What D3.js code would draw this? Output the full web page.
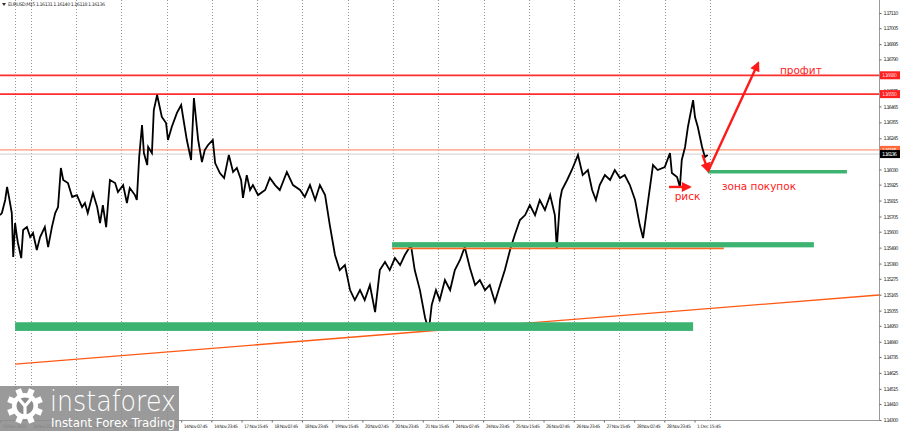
<!DOCTYPE html>
<html>
<head>
<meta charset="utf-8">
<script src="https://cdn.jsdelivr.net/npm/d3@7"></script>
<style>
  body { margin: 0; background: #fff; }
  svg { display: block; }
  text { font-family: "DejaVu Sans", sans-serif; }
</style>
</head>
<body>
<script>
// price axis ticks
const priceTicks = [1.17110, 1.17005, 1.16895, 1.16790, 1.16680, 1.16575, 1.16465, 1.16355, 1.16245,
  1.16140, 1.16030, 1.15925, 1.15815, 1.15705, 1.15600, 1.15490, 1.15380, 1.15275, 1.15165, 1.15055,
  1.14950, 1.14840, 1.14735, 1.14625, 1.14515, 1.14410, 1.14300];

// time axis (bar index of each label)
const timeBars = [0, 64, 128, 192, 256, 320, 384, 448, 512, 576, 640, 704, 768, 832, 896, 960, 1024,
  1088, 1152, 1216, 1280, 1344, 1408, 1472];
const timeLabels = ["10 Nov 2025", "10 Nov 23:45", "11 Nov 15:45", "12 Nov 07:45", "12 Nov 23:45",
  "13 Nov 15:45", "14 Nov 07:45", "14 Nov 23:45", "17 Nov 15:45", "18 Nov 07:45", "18 Nov 23:45",
  "19 Nov 15:45", "20 Nov 07:45", "20 Nov 23:45", "21 Nov 15:45", "24 Nov 07:45", "24 Nov 23:45",
  "25 Nov 15:45", "26 Nov 07:45", "26 Nov 23:45", "27 Nov 15:45", "28 Nov 07:45", "28 Nov 23:45",
  "1 Dec 15:45"];
const gridBars = [32, 65, 161, 257, 353, 449, 545, 641, 737, 833, 929, 1025, 1121, 1217, 1313, 1409, 1505];

// EURUSD M15 price path [bar, price]
const pricePath = [
  [0,1.15715],[4,1.15729],[11,1.15819],[15,1.15909],[19,1.15840],[25,1.15729],[28,1.15425],[32,1.15660],
  [36,1.15563],[38,1.15522],[45,1.15418],[49,1.15612],[57,1.15632],[64,1.15563],[70,1.15591],[78,1.15474],
  [85,1.15563],[95,1.15632],[102,1.15494],[110,1.15632],[117,1.15729],[123,1.15770],[129,1.16040],[134,1.15957],
  [144,1.15936],[153,1.15840],[163,1.15853],[174,1.15770],[180,1.15798],[186,1.15729],[197,1.15867],[206,1.15770],
  [212,1.15660],[218,1.15784],[225,1.15632],[233,1.15957],[244,1.15936],[250,1.15874],[261,1.15922],[269,1.15798],
  [275,1.15902],[286,1.15853],[290,1.15819],[295,1.16116],[301,1.16337],[305,1.16143],[312,1.16060],[314,1.16185],
  [322,1.16143],[326,1.16440],[333,1.16544],[343,1.16392],[352,1.16350],[356,1.16233],[364,1.16323],[375,1.16420],
  [384,1.16475],[388,1.16392],[396,1.16233],[405,1.16095],[411,1.16523],[420,1.16233],[428,1.16081],[434,1.16164],
  [441,1.16199],[451,1.16233],[456,1.16074],[466,1.16005],[475,1.15971],[485,1.16130],[494,1.16012],[502,1.16040],
  [511,1.15957],[515,1.15833],[523,1.15991],[530,1.15888],[536,1.15922],[547,1.15853],[562,1.15888],[572,1.15971],
  [583,1.15922],[593,1.15888],[608,1.16012],[621,1.15922],[636,1.15888],[646,1.15840],[657,1.15922],[668,1.15819],
  [678,1.15922],[689,1.15853],[699,1.15646],[710,1.15439],[720,1.15335],[731,1.15370],[742,1.15197],[752,1.15128],
  [763,1.15197],[773,1.15128],[784,1.15232],[795,1.15045],[805,1.15335],[816,1.15391],[826,1.15335],[837,1.15418],
  [848,1.15370],[858,1.15439],[871,1.15508],[879,1.15335],[890,1.15197],[901,1.15004],[909,1.14921],[915,1.15094],
  [924,1.15197],[932,1.15128],[943,1.15266],[954,1.15197],[964,1.15335],[975,1.15405],[985,1.15494],[996,1.15349],
  [1007,1.15232],[1017,1.15266],[1028,1.15197],[1038,1.15232],[1049,1.15115],[1060,1.15232],[1070,1.15335],[1081,1.15474],
  [1091,1.15577],[1102,1.15681],[1113,1.15715],[1123,1.15784],[1134,1.15715],[1144,1.15819],[1155,1.15750],[1166,1.15853],
  [1176,1.15715],[1180,1.15487],[1187,1.15819],[1191,1.15888],[1202,1.15957],[1212,1.16026],[1225,1.16130],[1235,1.15991],
  [1246,1.16026],[1255,1.15888],[1263,1.15819],[1271,1.15922],[1282,1.15991],[1293,1.15957],[1303,1.16026],[1314,1.15971],
  [1324,1.15991],[1335,1.15922],[1346,1.15819],[1356,1.15646],[1363,1.15556],[1371,1.15750],[1384,1.16060],[1394,1.16026],
  [1409,1.16047],[1420,1.16143],[1424,1.16005],[1435,1.15978],[1441,1.15909],[1445,1.16095],[1452,1.16185],[1458,1.16323],
  [1469,1.16509],[1473,1.16392],[1479,1.16323],[1488,1.16185],[1494,1.16116],[1500,1.16130]
];

// levels and drawings
const redLevels = [1.16680, 1.16550];
const orangeLevel = 1.16165;
const bidPrice = 1.16136;
const zones = [
  { from: 1500, to: 1795, top: 1.16026, bottom: 1.16002 },
  { from: 831, to: 1725, top: 1.15528, bottom: 1.15492 },
  { from: 32, to: 1469, top: 1.14975, bottom: 1.14915 }
];
const zoneEdge = { from: 831, to: 1534, price: 1.15485 };
const trend = [[32, 1.14686], [1863, 1.15163]];
const arrows = [
  [[1489, 1.16130], [1501, 1.16019]],
  [[1501, 1.16019], [1607, 1.16765]],
  [[1418, 1.15909], [1462, 1.15909]]
];
const notes = [
  { text: "профит", bar: 1653, price: 1.16689 },
  { text: "зона покупок", bar: 1530, price: 1.15888 },
  { text: "риск", bar: 1430, price: 1.15819 }
];

const W = 900, H = 431, right = 879, bottom = 420;
const svg = d3.select('body').append('svg').attr('width', W).attr('height', H);

const x = d3.scaleLinear().domain([0, 1863]).range([0, right]);
const y = d3.scaleLinear().domain([1.14300, 1.17110]).range([bottom, 13]);

// grid
svg.append('g').selectAll('line').data(gridBars).join('line')
  .attr('x1', d => Math.round(x(d)) + 0.5).attr('x2', d => Math.round(x(d)) + 0.5)
  .attr('y1', 0).attr('y2', bottom)
  .attr('stroke', '#7a7a7a').attr('stroke-width', 0.8).attr('stroke-dasharray', '1,2');

// horizontal levels
svg.append('line').attr('x1', 0).attr('x2', right)
  .attr('y1', y(bidPrice)).attr('y2', y(bidPrice)).attr('stroke', '#d0d0d0').attr('stroke-width', 1);
svg.append('line').attr('x1', 0).attr('x2', right)
  .attr('y1', y(orangeLevel)).attr('y2', y(orangeLevel)).attr('stroke', '#ff9878').attr('stroke-width', 1.1);
svg.append('g').selectAll('line').data(redLevels).join('line')
  .attr('x1', 0).attr('x2', right).attr('y1', d => y(d)).attr('y2', d => y(d))
  .attr('stroke', '#ff2e2e').attr('stroke-width', 1.8);

// trend line
svg.append('line')
  .attr('x1', x(trend[0][0])).attr('y1', y(trend[0][1]))
  .attr('x2', x(trend[1][0])).attr('y2', y(trend[1][1]))
  .attr('stroke', '#ff5a14').attr('stroke-width', 1.3);

// price
const line = d3.line().x(d => x(d[0])).y(d => y(d[1]));
svg.append('path').datum(pricePath).attr('d', line)
  .attr('fill', 'none').attr('stroke', '#000').attr('stroke-width', 1.8).attr('stroke-linejoin', 'miter');

// zones
svg.append('line')
  .attr('x1', x(zoneEdge.from)).attr('x2', x(zoneEdge.to))
  .attr('y1', y(zoneEdge.price)).attr('y2', y(zoneEdge.price))
  .attr('stroke', '#ff6a20').attr('stroke-width', 1.6);
svg.append('g').selectAll('rect').data(zones).join('rect')
  .attr('x', d => x(d.from)).attr('width', d => x(d.to) - x(d.from))
  .attr('y', d => y(d.top)).attr('height', d => y(d.bottom) - y(d.top))
  .attr('fill', '#3cb371');

// arrows
const defs = svg.append('defs');
defs.append('marker').attr('id', 'head')
  .attr('viewBox', '0 0 10 10').attr('refX', 8).attr('refY', 5)
  .attr('markerUnits', 'userSpaceOnUse').attr('markerWidth', 11).attr('markerHeight', 10)
  .attr('orient', 'auto')
  .append('path').attr('d', 'M0,0L10,5L0,10z').attr('fill', '#ff1a1a');
svg.append('g').selectAll('line').data(arrows).join('line')
  .attr('x1', d => x(d[0][0])).attr('y1', d => y(d[0][1]))
  .attr('x2', d => x(d[1][0])).attr('y2', d => y(d[1][1]))
  .attr('stroke', '#ff1a1a').attr('stroke-width', 2.4).attr('marker-end', 'url(#head)');

svg.append('g').selectAll('text').data(notes).join('text')
  .attr('x', d => x(d.bar)).attr('y', d => y(d.price))
  .attr('fill', '#ff2020').attr('font-size', 10.5)
  .attr('font-family', '"Liberation Sans", Arial, sans-serif')
  .text(d => d.text);

// frame
svg.append('line').attr('x1', right + 0.5).attr('x2', right + 0.5).attr('y1', 0).attr('y2', bottom + 0.5)
  .attr('stroke', '#9a9a9a');
svg.append('line').attr('x1', 0).attr('x2', right + 0.5).attr('y1', bottom + 0.5).attr('y2', bottom + 0.5)
  .attr('stroke', '#9a9a9a');

// price axis
const yAxis = svg.append('g').attr('transform', `translate(${right + 0.5},0)`)
  .call(d3.axisRight(y).tickValues(priceTicks).tickFormat(d3.format('.5f')).tickSize(2).tickPadding(2));
yAxis.select('.domain').remove();
yAxis.selectAll('line').attr('stroke', '#666');
yAxis.selectAll('text').attr('font-size', 5).attr('fill', '#333').attr('textLength', 15);

// price labels
const tags = [
  { price: redLevels[0], bg: '#ff2020', fg: '#ffd0d0' },
  { price: redLevels[1], bg: '#ff2020', fg: '#ffd0d0' },
  { price: orangeLevel, bg: '#ff6a3a', fg: '#ffffff' },
  { price: bidPrice, bg: '#000000', fg: '#ffffff' }
];
const tg = svg.append('g').selectAll('g').data(tags).join('g')
  .attr('transform', d => `translate(${right + 1},${y(d.price)})`);
tg.append('rect').attr('x', 0).attr('y', -4).attr('width', 20).attr('height', 8).attr('fill', d => d.bg);
tg.append('text').attr('x', 2).attr('y', 2).attr('font-size', 5).attr('textLength', 15)
  .attr('fill', d => d.fg).text(d => d3.format('.5f')(d.price));

// time axis
const xAxis = svg.append('g').attr('transform', `translate(0,${bottom + 0.5})`)
  .call(d3.axisBottom(x).tickValues(timeBars).tickFormat((d, i) => timeLabels[i]).tickSize(2).tickPadding(2));
xAxis.select('.domain').remove();
xAxis.selectAll('line').attr('stroke', '#666');
xAxis.selectAll('text').attr('font-size', 4.6).attr('fill', '#333')
  .attr('text-anchor', 'start').attr('dx', 2).attr('textLength', 24);

// title
svg.append('path').attr('d', 'M2,3L6,3L4,6z').attr('fill', '#333');
svg.append('text').attr('x', 8).attr('y', 6).attr('font-size', 4.8).attr('fill', '#333')
  .attr('textLength', 97).text('EURUSD,M15  1.16131 1.16140 1.16118 1.16136');

// logo
const logo = svg.append('g');
logo.append('rect').attr('x', 0).attr('y', 386).attr('width', 179).attr('height', 45)
  .attr('fill', '#8c8c8c').attr('opacity', 0.88);
const gear = logo.append('g').attr('transform', 'translate(25,406)');
d3.range(8).forEach(i => {
  gear.append('rect').attr('x', -3).attr('y', -18).attr('width', 6).attr('height', 7)
    .attr('fill', '#fff').attr('transform', `rotate(${i * 45 + 22.5})`);
});
gear.append('circle').attr('r', 13).attr('fill', '#fff');
gear.append('circle').attr('r', 8.5).attr('fill', '#8c8c8c');
gear.append('path').attr('d', 'M-6,-7L0,0L6,-7M0,0L0,9')
  .attr('stroke', '#fff').attr('stroke-width', 3.2).attr('fill', 'none');
logo.append('text').attr('x', 50).attr('y', 411).attr('font-size', 29).attr('fill', '#fff')
  .attr('font-family', 'Lato, "Noto Sans", sans-serif').attr('font-weight', 300)
  .attr('textLength', 126).attr('lengthAdjust', 'spacingAndGlyphs').text('instaforex');
logo.append('text').attr('x', 51).attr('y', 427).attr('font-size', 12).attr('fill', '#fff')
  .attr('font-family', '"Noto Sans", sans-serif')
  .attr('textLength', 124).attr('lengthAdjust', 'spacingAndGlyphs').text('Instant Forex Trading');
</script>
</body>
</html>
